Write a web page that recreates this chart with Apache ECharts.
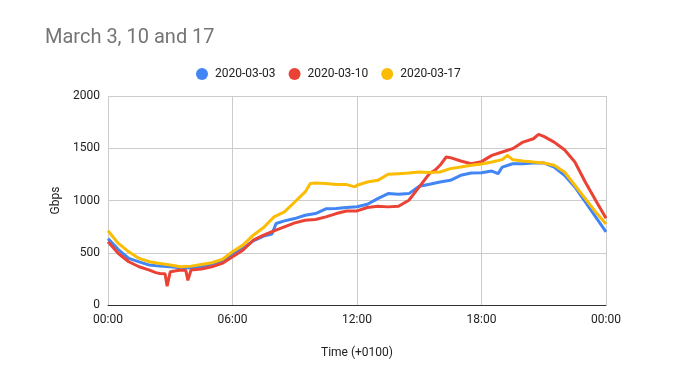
<!DOCTYPE html>
<html><head><meta charset="utf-8">
<script src="https://cdn.jsdelivr.net/npm/echarts@6/dist/echarts.min.js"></script>
<style>html,body{margin:0;padding:0;background:#fff}#c{width:692px;height:387px}</style>
</head><body><div id="c"></div>
<script>
const seriesNames = ['2020-03-03', '2020-03-10', '2020-03-17'];
const xTickLabels = ['00:00', '06:00', '12:00', '18:00', '00:00'];
const yTicks = [0, 500, 1000, 1500, 2000];

const blueHours = [0,0.5,1,1.5,2,2.5,3,3.5,4,4.5,5,5.5,6,6.5,7,7.5,7.9,8.1,8.5,9,9.5,10,10.5,11,11.5,12,12.5,13,13.5,14,14.5,15,15.5,16,16.5,17,17.5,18,18.5,18.8,19,19.5,20,20.5,21,21.5,22,22.5,23,23.5,24];
const blueGbps  = [635,530,446,413,382,372,366,356,353,366,382,413,490,540,614,659,680,780,805,827,859,875,920,923,933,940,964,1018,1066,1060,1066,1136,1155,1177,1193,1241,1263,1265,1282,1257,1320,1352,1352,1358,1360,1320,1241,1130,986,843,700];

const redHours = [0,0.5,1,1.5,2,2.3,2.5,2.75,2.85,3,3.5,3.75,3.85,4,4.5,5,5.5,6,6.5,7,7.5,8,8.5,9,9.5,10,10.5,11,11.5,12,12.5,13,13.5,14,14.5,15,15.5,15.75,16,16.3,16.5,17,17.5,18,18.5,19,19.5,20,20.5,20.75,21,21.5,22,22.5,23,23.5,24];
const redGbps  = [605,493,414,366,334,310,302,300,180,318,334,330,235,334,344,366,398,461,525,620,668,710,748,786,811,818,843,875,900,900,933,945,939,945,1002,1130,1260,1289,1337,1416,1410,1378,1352,1372,1432,1464,1496,1559,1591,1632,1613,1559,1486,1368,1177,1002,830];

const yellowHours = [0,0.5,1,1.5,2,2.5,3,3.5,4,4.5,5,5.5,6,6.5,7,7.5,8,8.5,9,9.5,9.75,10,10.5,11,11.5,11.9,12,12.5,13,13.5,14,14.5,15,15.5,16,16.5,17,17.5,18,18.5,19,19.25,19.5,20,20.5,21,21.5,22,22.5,23,23.5,24];
const yellowGbps  = [710,589,509,446,414,398,382,366,372,388,404,436,509,573,668,742,843,891,986,1082,1162,1168,1162,1152,1152,1130,1146,1177,1193,1251,1257,1263,1273,1267,1273,1305,1320,1337,1350,1368,1391,1432,1391,1378,1368,1359,1337,1273,1146,1018,891,775];

const colors = ['#4285F4', '#EA4335', '#FBBC04'];
const pairs = (h, v) => h.map((t, i) => [t, v[i]]);
const allData = [pairs(blueHours, blueGbps), pairs(redHours, redGbps), pairs(yellowHours, yellowGbps)];

const chart = echarts.init(document.getElementById('c'), null, {renderer: 'canvas'});
chart.setOption({
  animation: false,
  backgroundColor: '#fff',
  title: {
    text: 'March 3, 10 and 17', left: 40, top: 23,
    textStyle: {color: '#757575', fontSize: 20, fontWeight: 'normal', fontFamily: 'Roboto'}
  },
  legend: {
    top: 63, left: 191, icon: 'circle', itemWidth: 12, itemHeight: 12, itemGap: 13,
    textStyle: {color: '#222', fontSize: 12, fontFamily: 'Roboto', padding: [0, 0, 0, 2]},
    data: seriesNames
  },
  grid: {left: 108, right: 86, top: 96, bottom: 82},
  xAxis: {
    type: 'value', min: 0, max: 24, interval: 6,
    name: 'Time (+0100)', nameLocation: 'middle', nameGap: 42,
    nameTextStyle: {color: '#222', fontSize: 12, fontFamily: 'Roboto'},
    axisLine: {lineStyle: {color: '#333', width: 1}},
    axisTick: {show: false},
    axisLabel: {color: '#222', fontSize: 12, fontFamily: 'Roboto', margin: 9,
      formatter: v => xTickLabels[Math.round(v / 6)]},
    splitLine: {show: true, lineStyle: {color: '#cccccc'}}
  },
  yAxis: {
    type: 'value', min: yTicks[0], max: yTicks[yTicks.length - 1], interval: 500,
    name: 'Gbps', nameLocation: 'middle', nameGap: 46,
    nameTextStyle: {color: '#222', fontSize: 12, fontFamily: 'Roboto'},
    axisLine: {show: false}, axisTick: {show: false},
    axisLabel: {color: '#222', fontSize: 12, fontFamily: 'Roboto', margin: 8,
      formatter: v => String(v)},
    splitLine: {lineStyle: {color: '#cccccc'}}
  },
  series: seriesNames.map((n, i) => ({
    name: n, type: 'line', data: allData[i], showSymbol: false, symbol: 'circle',
    lineStyle: {width: 3, color: colors[i]}, itemStyle: {color: colors[i]}, z: i === 2 ? 3 : 2
  }))
});
</script></body></html>
